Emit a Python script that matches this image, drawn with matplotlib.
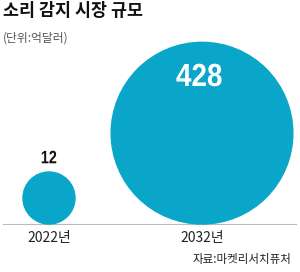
import numpy as np
import matplotlib
matplotlib.use('Agg')
from matplotlib import pyplot as plt
from matplotlib.patches import Circle, PathPatch
from matplotlib.textpath import TextPath
from matplotlib.font_manager import FontProperties
from matplotlib.transforms import Affine2D

plt.rcParams['font.family'] = ['Noto Sans CJK KR', 'DejaVu Sans']

# data
years = ['2022년', '2032년']
values = [12, 428]
title = '소리 감지 시장 규모'
unit = '(단위:억달러)'
source = '자료:마켓리서치퓨처'

color = '#0aa6c9'
num_prop = FontProperties(family='Liberation Sans', weight='bold')


def narrow_label(ax, x, y, s, size, sx, fc):
    # condensed number label, centred on (x, y), y axis is pixel-down
    tp = TextPath((0, 0), s, size=size, prop=num_prop)
    ext = tp.get_extents()
    tr = Affine2D().translate(-(ext.x0 + ext.x1) / 2, -(ext.y0 + ext.y1) / 2) \
        .scale(sx, -1).translate(x, y)
    ax.add_patch(PathPatch(tr.transform_path(tp), fc=fc, ec='none', zorder=3))


fig = plt.figure(figsize=(3.0, 2.72), dpi=100)
ax = fig.add_axes([0, 0, 1, 1])
ax.set_xlim(0, 300)
ax.set_ylim(272, 0)
ax.set_aspect('equal')
ax.axis('off')

base_y = 224
centers_x = [49, 202]
# radius grows with value (compressed scale, like the original graphic)
radii = [26 * (v / values[0]) ** 0.35 for v in values]

ax.plot([3, 296], [base_y, base_y], color='#bbbbbb', lw=0.8, zorder=1)

for i, (yr, v) in enumerate(zip(years, values)):
    r = radii[i]
    cy = base_y - r
    ax.add_patch(Circle((centers_x[i], cy), r, color=color, zorder=2))
    ax.text(centers_x[i], base_y + 14, yr, ha='center', va='center',
            fontsize=10, color='#222222')

# value labels
narrow_label(ax, centers_x[0], 157, str(values[0]), 18, 0.8, '#111111')
narrow_label(ax, centers_x[1] - 3, 75, str(values[1]), 32, 0.87, 'white')

ax.text(3, 11, title, ha='left', va='center', fontsize=12.5,
        fontweight='black', color='#111111')
ax.text(3, 38, unit, ha='left', va='center', fontsize=8.5, color='#555555')
ax.text(291, 260, source, ha='right', va='center', fontsize=8.3,
        color='#222222')

plt.savefig('out.png', dpi=100)
